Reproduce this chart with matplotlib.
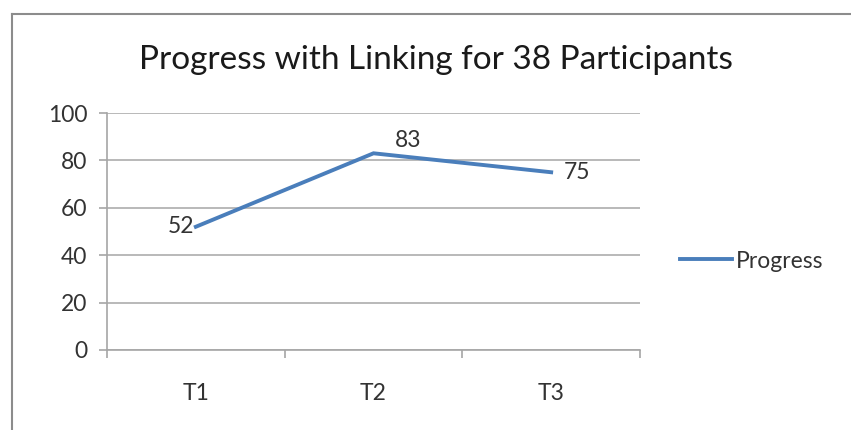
import matplotlib
matplotlib.use('Agg')
import matplotlib.pyplot as plt
from matplotlib.lines import Line2D

categories = ['T1', 'T2', 'T3']
progress = [52, 83, 75]
yticks = [0, 20, 40, 60, 80, 100]

plt.rcParams['font.family'] = ['Lato', 'DejaVu Sans']
blue = '#4a7ebb'
grey = '#a6a6a6'
txt = '#333333'
fs = 16.5

fig = plt.figure(figsize=(8.51, 4.30), dpi=100)
W, H = 851, 430

# outer frame (top + left edges visible)
fig.add_artist(Line2D([12 / W, 1], [1 - 14 / H, 1 - 14 / H], color='#8c8c8c', lw=1.5))
fig.add_artist(Line2D([12 / W, 12 / W], [0, 1 - 14 / H], color='#8c8c8c', lw=1.5))

ax = fig.add_axes([107 / W, 1 - 350 / H, 533 / W, 237 / H])
x = list(range(len(categories)))
ax.plot(x, progress, color=blue, lw=2.8, solid_joinstyle='miter', label='Progress')

ax.set_xlim(-0.5, 2.5)
ax.set_ylim(0, 100)
ax.set_yticks(yticks)
ax.set_xticks([-0.5, 0.5, 1.5, 2.5])
ax.set_xticklabels([])
ax.set_xticks(x, minor=True)
ax.set_xticklabels(categories, minor=True)
ax.tick_params(axis='x', which='minor', length=0, pad=24, labelsize=fs, labelcolor=txt)
ax.tick_params(axis='x', which='major', length=6, color=grey, width=1.2, direction='out')
ax.tick_params(axis='y', length=6, color=grey, width=1.2, pad=8, labelsize=fs, labelcolor=txt)
ax.grid(axis='y', color=grey, lw=1.1)
ax.set_axisbelow(True)
for s in ['top', 'right']:
    ax.spines[s].set_visible(False)
for s in ['left', 'bottom']:
    ax.spines[s].set_color(grey)
    ax.spines[s].set_linewidth(1.2)

# data labels
ax.annotate(str(progress[0]), (x[0], progress[0]), xytext=(-1, 0), textcoords='offset points',
            ha='right', va='center', fontsize=fs, color=txt)
ax.annotate(str(progress[1]), (x[1], progress[1]), xytext=(25, 9), textcoords='offset points',
            ha='center', va='center', fontsize=fs, color=txt)
ax.annotate(str(progress[2]), (x[2], progress[2]), xytext=(9, 0), textcoords='offset points',
            ha='left', va='center', fontsize=fs, color=txt)

fig.text(436 / W, 1 - 60 / H, 'Progress with Linking for 38 Participants',
         ha='center', va='center', fontsize=24, color='#1a1a1a')

ax.legend(loc='center left', bbox_to_anchor=(659 / W, 1 - 261 / H), bbox_transform=fig.transFigure,
          frameon=False, fontsize=fs, handlelength=2.3, handletextpad=0.15, labelcolor=txt)

fig.savefig('out.png', dpi=100, facecolor='white')
